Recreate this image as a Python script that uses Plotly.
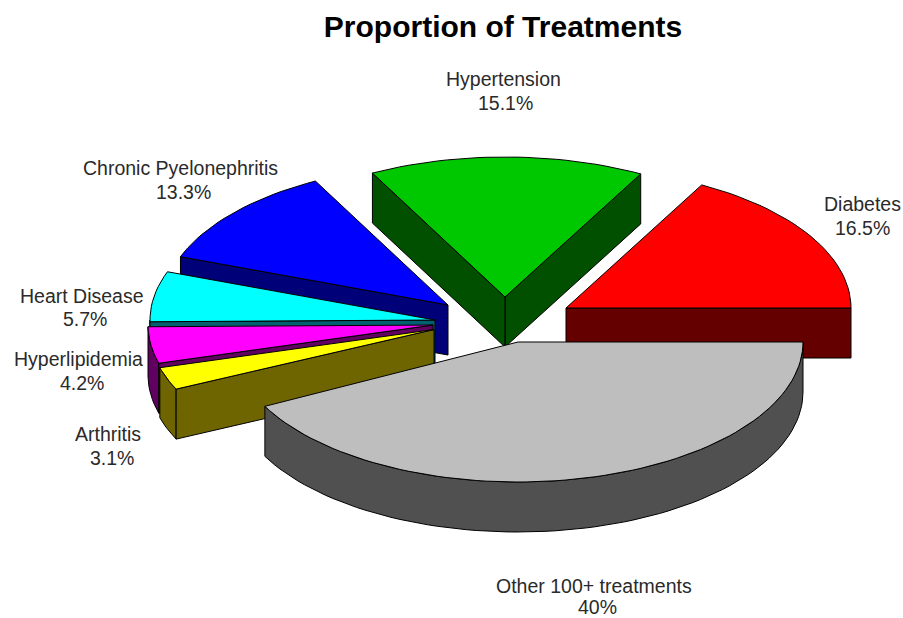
import math
import plotly.graph_objects as go

# Data
categories = ["Diabetes", "Hypertension", "Chronic Pyelonephritis", "Heart Disease",
              "Hyperlipidemia", "Arthritis", "Other 100+ treatments"]
percent_labels = ["16.5%", "15.1%", "13.3%", "5.7%", "4.2%", "3.1%", "40%"]
# Share of the full circle each wedge occupies as drawn, percent
drawn_shares = [17.1, 15.6, 11.7, 5.8, 4.2, 2.6, 42.4]

top_colors = ["#FF0000", "#00C800", "#0000FF", "#00FFFF", "#FF00FF", "#FFFF00", "#BEBEBE"]
side_colors = ["#640000", "#005000", "#000078", "#006070", "#600060", "#6E6400", "#505050"]

# Geometry (pixels in the 903x618 frame)
RX, RY, DEPTH = 285, 140, 50
apexes = [(566, 308), (505, 297), (448, 305), (435, 320), (433, 325), (434, 329.5), (518, 342)]
label_pos = [((862, 204), (862, 228)), ((503, 79), (505, 103)), ((180, 168), (183, 192)),
             ((82, 296), (85, 319)), ((78, 359), (82, 383)), ((108, 434), (112, 458)),
             ((594, 586), (597, 607))]
# Back-to-front paint order
paint_order = [1, 0, 2, 3, 4, 5, 6]


def pt(apex, deg, dz=0):
    a = math.radians(deg)
    return (apex[0] + RX * math.cos(a), apex[1] - RY * math.sin(a) + dz)


def poly(fig, pts, color):
    xs = [p[0] for p in pts] + [pts[0][0]]
    ys = [p[1] for p in pts] + [pts[0][1]]
    fig.add_trace(go.Scatter(x=xs, y=ys, mode="lines", fill="toself", fillcolor=color,
                             line=dict(color="#000000", width=1), hoverinfo="skip",
                             showlegend=False))


def arc_angles(a0, a1):
    n = max(8, int((a1 - a0) / 2))
    return [a0 + (a1 - a0) * k / n for k in range(n + 1)]


# Wedges run counter-clockwise from 3 o'clock; the last one closes the circle
spans = []
start = 0.0
for s in drawn_shares[:-1]:
    spans.append((start, start + s * 3.6))
    start += s * 3.6
spans.append((360.0 - drawn_shares[-1] * 3.6, 360.0))

fig = go.Figure()
for i in paint_order:
    a0, a1 = spans[i]
    apex = apexes[i]
    low_apex = (apex[0], apex[1] + DEPTH)
    # outer band: only the part on the near half of the rim
    b0, b1 = max(a0, 180.0), min(a1, 360.0)
    if b1 > b0:
        angs = arc_angles(b0, b1)
        poly(fig, [pt(apex, a) for a in angs] + [pt(apex, a, DEPTH) for a in angs[::-1]], side_colors[i])
    # radial faces that look towards the viewer
    if math.cos(math.radians(a0)) > 0:
        poly(fig, [apex, pt(apex, a0), pt(apex, a0, DEPTH), low_apex], side_colors[i])
    if math.cos(math.radians(a1)) < 0:
        poly(fig, [apex, pt(apex, a1), pt(apex, a1, DEPTH), low_apex], side_colors[i])
    poly(fig, [apex] + [pt(apex, a) for a in arc_angles(a0, a1)], top_colors[i])

ann = []
for name, pct, (p1, p2) in zip(categories, percent_labels, label_pos):
    for text, p in ((name, p1), (pct, p2)):
        ann.append(dict(x=p[0], y=p[1], text=text, showarrow=False, xanchor="center",
                        yanchor="middle", font=dict(family="Liberation Sans", size=19.5, color="#2A2A2A")))

fig.update_layout(
    width=903, height=618, margin=dict(l=0, r=0, t=0, b=0),
    paper_bgcolor="white", plot_bgcolor="white", showlegend=False,
    title=dict(text="<b>Proportion of Treatments</b>", x=503 / 903, xanchor="center",
               y=1 - 26 / 618, yanchor="middle",
               font=dict(family="Liberation Sans", size=30, color="#000000")),
    xaxis=dict(range=[0, 903], visible=False, fixedrange=True),
    yaxis=dict(range=[618, 0], visible=False, fixedrange=True),
    annotations=ann,
)
fig.write_html("out.html", config={"displayModeBar": False},
               post_script="document.body.style.margin='0';document.documentElement.style.overflow='hidden';")
